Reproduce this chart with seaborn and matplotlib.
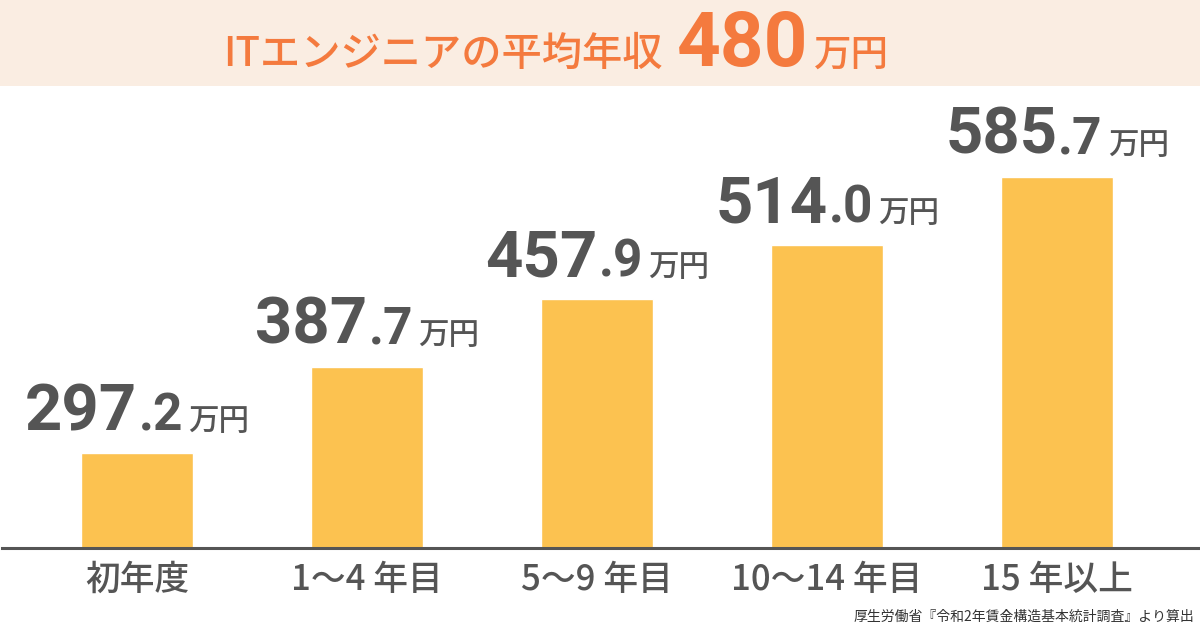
import matplotlib
matplotlib.use("Agg")
import matplotlib.pyplot as plt
import seaborn as sns
import pandas as pd
from matplotlib.patches import Rectangle
from matplotlib.transforms import ScaledTranslation

# ---- data ----
categories = ["初年度", "1〜4 年目", "5〜9 年目", "10〜14 年目", "15 年以上"]
salaries = [297.2, 387.7, 457.9, 514.0, 585.7]
unit = "万円"
title_text = "ITエンジニアの平均年収"
title_value = "480"
source_note = "厚生労働省『令和2年賃金構造基本統計調査』より算出"

# ---- style ----
sns.set_theme(style="white")
plt.rcParams['font.family'] = ['Noto Sans CJK JP', 'DejaVu Sans']

W, H = 1200, 628
BAR = "#FCC250"
GRAY = "#555555"
ORANGE = "#F47A3E"

fig = plt.figure(figsize=(W / 100, H / 100), dpi=100)
fig.patch.set_facecolor("white")
fig.patches.append(Rectangle((0, 1 - 86 / H), 1, 86 / H, transform=fig.transFigure,
                             facecolor="#FAEDE2", edgecolor="none", zorder=0))

ax = fig.add_axes([2 / W, 80 / H, 1196 / W, 448 / H])
ax.set_facecolor("none")
df = pd.DataFrame({"cat": categories, "val": salaries})
sns.barplot(data=df, x="cat", y="val", color=BAR, width=0.487, saturation=1, ax=ax)
ax.set_xlim(-0.587, 4.613)
ax.set_ylim(198.3, 665.8)
ax.set_xlabel("")
ax.set_ylabel("")
ax.set_yticks([])
for s in ["top", "left", "right"]:
    ax.spines[s].set_visible(False)
ax.spines["bottom"].set_color(GRAY)
ax.spines["bottom"].set_linewidth(2.2)
ax.spines["bottom"].set_zorder(5)
ax.tick_params(axis="x", length=0, pad=10, labelsize=25, labelcolor=GRAY)
for lab in ax.get_xticklabels():
    lab.set_fontweight("medium")

renderer = fig.canvas.get_renderer()


def place_pieces(x, y, trans, pieces, gaps, dy_px=0):
    texts = []
    for s, kw in pieces:
        t = fig.text(x, y, s, transform=trans, ha="left", va="baseline", **kw)
        texts.append(t)
    widths = [t.get_window_extent(renderer).width for t in texts]
    total = sum(widths) + sum(gaps)
    cur = -total / 2
    for i, t in enumerate(texts):
        t.set_transform(trans + ScaledTranslation(cur / fig.dpi, dy_px / fig.dpi, fig.dpi_scale_trans))
        cur += widths[i] + (gaps[i] if i < len(gaps) else 0)


NUM_FONT = ["Roboto", "DejaVu Sans"]

# value labels
for i, v in enumerate(salaries):
    s = f"{v:.1f}"
    whole, dec = s[:-2], s[-2:]
    place_pieces(i, v, ax.transData, [
        (whole, dict(fontsize=47, fontweight="bold", color=GRAY, family=NUM_FONT)),
        (dec, dict(fontsize=37, fontweight="bold", color=GRAY, family=NUM_FONT)),
        (unit, dict(fontsize=22, fontweight="medium", color=GRAY)),
    ], gaps=[1, 5], dy_px=23)

# title
place_pieces(556 / W, 1 - 66 / H, fig.transFigure, [
    (title_text, dict(fontsize=29, fontweight="medium", color=ORANGE)),
    (title_value, dict(fontsize=55, fontweight="bold", color=ORANGE, family=NUM_FONT)),
    (unit, dict(fontsize=27, fontweight="medium", color=ORANGE)),
], gaps=[14, 6])

fig.text(1194 / W, 1 - 617 / H, source_note, ha="right", va="center", fontsize=10, color="#333333")

fig.savefig("out.png", dpi=100, facecolor="white")
